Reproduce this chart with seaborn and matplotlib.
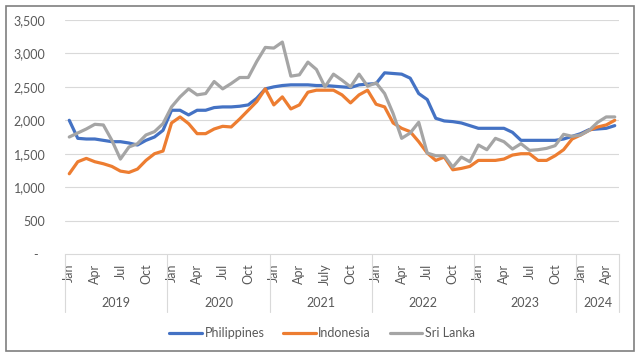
import pandas as pd
import matplotlib.pyplot as plt
import matplotlib.transforms as mtransforms
from matplotlib.patches import Rectangle
import seaborn as sns

# monthly series, Jan 2019 .. May 2024
years = ["2019", "2020", "2021", "2022", "2023", "2024"]
months_per_year = [12, 12, 12, 12, 12, 5]
month_names = ["Jan", "Apr", "Jul", "Oct"]

philippines = [
    2000, 1730, 1720, 1720, 1700, 1680, 1680, 1660, 1630, 1700, 1750, 1850,
    2150, 2150, 2080, 2150, 2150, 2190, 2200, 2200, 2210, 2230, 2330, 2470,
    2500, 2520, 2530, 2530, 2530, 2520, 2520, 2510, 2500, 2490, 2530, 2540,
    2550, 2710, 2700, 2690, 2630, 2400, 2310, 2030, 1990, 1980, 1960, 1920,
    1880, 1880, 1880, 1880, 1820, 1700, 1700, 1700, 1700, 1700, 1720, 1760,
    1800, 1860, 1870, 1880, 1920,
]
indonesia = [
    1200, 1380, 1430, 1380, 1350, 1310, 1240, 1220, 1270, 1400, 1500, 1540,
    1960, 2050, 1950, 1800, 1800, 1870, 1910, 1900, 2020, 2150, 2280, 2470,
    2230, 2350, 2170, 2230, 2420, 2450, 2450, 2450, 2380, 2260, 2380, 2450,
    2240, 2200, 1960, 1880, 1830, 1680, 1510, 1400, 1450, 1260, 1280, 1310,
    1400, 1400, 1400, 1420, 1480, 1500, 1500, 1400, 1400, 1470, 1560, 1720,
    1780, 1850, 1900, 1930, 2000,
]
sri_lanka = [
    1750, 1810, 1870, 1940, 1930, 1700, 1420, 1600, 1650, 1780, 1830, 1950,
    2200, 2350, 2470, 2380, 2400, 2580, 2470, 2550, 2640, 2640, 2880, 3090,
    3080, 3170, 2660, 2680, 2870, 2760, 2500, 2690, 2600, 2500, 2690, 2510,
    2560, 2400, 2100, 1730, 1810, 1970, 1510, 1470, 1470, 1300, 1450, 1380,
    1630, 1560, 1730, 1680, 1570, 1650, 1550, 1560, 1580, 1620, 1790, 1760,
    1780, 1850, 1970, 2050, 2050,
]

n = len(philippines)
df = pd.DataFrame({
    "month": list(range(n)) * 3,
    "value": philippines + indonesia + sri_lanka,
    "country": ["Philippines"] * n + ["Indonesia"] * n + ["Sri Lanka"] * n,
})

sns.set_style("white")
plt.rcParams["font.family"] = ["Lato", "DejaVu Sans"]
txt = "#595959"
grid = "#D9D9D9"

fig = plt.figure(figsize=(6.4, 3.57), dpi=100)
ax = fig.add_axes([65 / 640, 1 - 254 / 357, 554 / 640, 234 / 357])

palette = {"Philippines": "#4472C4", "Indonesia": "#ED7D31", "Sri Lanka": "#A5A5A5"}
sns.lineplot(data=df, x="month", y="value", hue="country", palette=palette,
             linewidth=2.3, ax=ax, legend=True)

ax.set_xlim(-0.5, n - 0.5)
ax.set_ylim(0, 3500)
yt = list(range(0, 3501, 500))
ax.set_yticks(yt)
ax.set_yticklabels(["-  "] + [f"{v:,}" for v in yt[1:]], color=txt, fontsize=9)
for v in yt[1:]:
    ax.axhline(v, color=grid, linewidth=0.8, zorder=0)

# month ticks
pos, labs = [], []
start = 0
for yr, cnt in zip(years, months_per_year):
    for k, m in enumerate(month_names):
        if k * 3 < cnt:
            pos.append(start + k * 3)
            labs.append("July" if (yr == "2021" and m == "Jul") else m)
    start += cnt
ax.set_xticks(pos)
ax.set_xticklabels(labs, rotation=90, color=txt, fontsize=9, va="top")
ax.tick_params(axis="x", length=0, pad=7)
ax.tick_params(axis="y", length=0, pad=14)
ax.set_xlabel("")
ax.set_ylabel("")

for s in ["top", "right", "left"]:
    ax.spines[s].set_visible(False)
ax.spines["bottom"].set_color(grid)
ax.spines["bottom"].set_linewidth(0.8)

# year labels and separators
trans = mtransforms.blended_transform_factory(ax.transData, ax.transAxes)
start = 0
edges = [-0.5]
for yr, cnt in zip(years, months_per_year):
    ax.text(start + (cnt - 1) / 2, -0.209, yr, transform=trans, ha="center",
            va="center", color=txt, fontsize=9)
    start += cnt
    edges.append(start - 0.5)
for e in edges:
    ax.plot([e, e], [0, -0.248], transform=trans, color=grid, linewidth=0.8,
            clip_on=False)

h, l = ax.get_legend_handles_labels()
ax.legend(h, l, loc="center", bbox_to_anchor=(322 / 640, 1 - 333 / 357),
          bbox_transform=fig.transFigure, ncol=3,
          frameon=False, fontsize=9, handlelength=2.6, handletextpad=0.2,
          columnspacing=1.5, labelcolor=txt)

fig.patches.append(Rectangle((6 / 640, 1 - 351 / 357), 628 / 640, 345 / 357,
                             transform=fig.transFigure, fill=False,
                             edgecolor="#7F7F7F", linewidth=1.2))

fig.savefig("out.png", dpi=100)
